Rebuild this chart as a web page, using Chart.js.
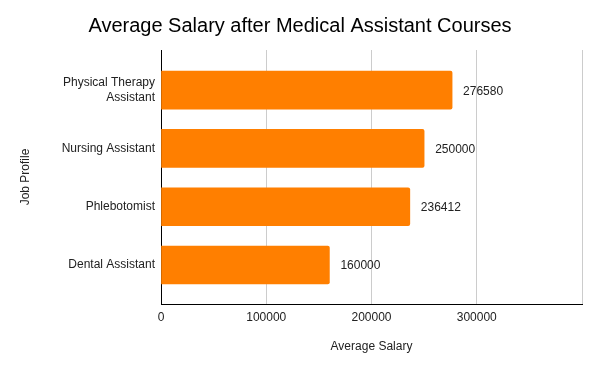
<!DOCTYPE html>
<html>
<head>
<meta charset="utf-8">
<title>Average Salary after Medical Assistant Courses</title>
<script src="https://cdn.jsdelivr.net/npm/chart.js@4"></script>
<style>
  html, body { margin: 0; padding: 0; background: #fff; }
  #wrap { width: 600px; height: 371px; }
</style>
</head>
<body>
<div id="wrap"><canvas id="chart" width="600" height="371"></canvas></div>
<script>
// data
const jobProfiles = [['Physical Therapy', 'Assistant'], 'Nursing Assistant', 'Phlebotomist', 'Dental Assistant'];
const salaries = [276580, 250000, 236412, 160000];
const salaryTicks = [0, 100000, 200000, 300000];

const barColor = '#ff7f00';
const textColor = '#222222';
const fontFamily = 'Arial, "Liberation Sans", sans-serif';

// value labels at the end of each bar
const endLabels = {
  id: 'endLabels',
  afterDatasetsDraw(chart) {
    const ctx = chart.ctx;
    const meta = chart.getDatasetMeta(0);
    ctx.save();
    ctx.font = '12px ' + fontFamily;
    ctx.fillStyle = textColor;
    ctx.textAlign = 'left';
    ctx.textBaseline = 'middle';
    meta.data.forEach((bar, i) => {
      ctx.fillText(String(salaries[i]), bar.x + 11, bar.y + 1);
    });
    ctx.restore();
  }
};

const ctx = document.getElementById('chart').getContext('2d');
new Chart(ctx, {
  type: 'bar',
  data: {
    datasets: [{
      label: 'Average Salary',
      data: salaries.map((v, i) => ({ x: v, y: i })),
      backgroundColor: barColor,
      borderWidth: 0,
      borderRadius: 2,
      barThickness: 38,
    }],
  },
  options: {
    indexAxis: 'y',
    responsive: false,
    animation: false,
    layout: { padding: { left: 18, right: 18, top: 0, bottom: 0 } },
    plugins: {
      legend: { display: false },
      tooltip: { enabled: false },
      title: {
        display: true,
        text: 'Average Salary after Medical Assistant Courses',
        color: '#000',
        font: { family: fontFamily, size: 20, weight: 'normal' },
        padding: { top: 14, bottom: 12 },
      },
    },
    scales: {
      x: {
        type: 'linear',
        min: 0,
        max: 400000,
        afterFit: (scale) => { scale.height = 67; },
        afterBuildTicks: (scale) => {
          scale.ticks = salaryTicks.concat([400000]).map(v => ({ value: v }));
        },
        ticks: {
          color: textColor,
          font: { family: fontFamily, size: 12 },
          padding: 6,
          maxRotation: 0,
          callback: (v) => salaryTicks.includes(v) ? String(v) : '',
        },
        grid: { color: '#cccccc', drawTicks: false },
        border: { display: true, color: '#000', width: 1 },
        title: {
          display: true,
          text: 'Average Salary',
          color: textColor,
          font: { family: fontFamily, size: 12 },
          padding: { top: 0, bottom: 17 },
        },
      },
      y: {
        type: 'linear',
        reverse: true,
        offset: false,
        min: -0.69,
        max: 3.67,
        afterFit: (scale) => { scale.width = 143; },
        afterBuildTicks: (scale) => {
          scale.ticks = jobProfiles.map((p, i) => ({ value: i }));
        },
        ticks: {
          color: textColor,
          font: { family: fontFamily, size: 12 },
          padding: 6,
          callback: (v) => jobProfiles[v],
        },
        grid: { display: false, drawTicks: false },
        border: { display: true, color: '#000', width: 1 },
        title: {
          display: true,
          text: 'Job Profile',
          color: textColor,
          font: { family: fontFamily, size: 12 },
          padding: { top: 0, bottom: 0 },
        },
      },
    },
  },
  plugins: [endLabels],
});
</script>
</body>
</html>
